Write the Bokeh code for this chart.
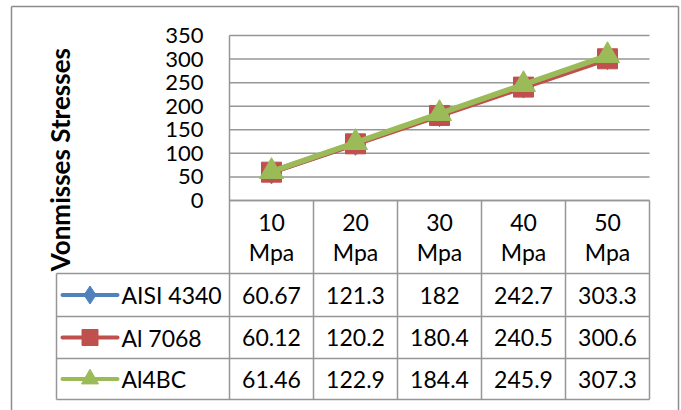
from bokeh.plotting import figure
from bokeh.models import Range1d, LinearAxis, FixedTicker
from bokeh.embed import file_html
from bokeh.resources import INLINE
from bokeh.core.properties import value

# ---- data ----
categories = ["10 Mpa", "20 Mpa", "30 Mpa", "40 Mpa", "50 Mpa"]
series_names = ["AISI 4340", "Al 7068", "Al4BC"]
aisi_4340 = [60.67, 121.3, 182, 242.7, 303.3]
al_7068 = [60.12, 120.2, 180.4, 240.5, 300.6]
al4bc = [61.46, 122.9, 184.4, 245.9, 307.3]
y_ticks = [0, 50, 100, 150, 200, 250, 300, 350]
y_title = "Vonmisses  Stresses"

# ---- styles / layout ----
colors = ["#4F81BD", "#C0504D", "#9BBB59"]
markers = ["diamond", "square", "triangle"]
plot_marker_sizes = [24, 20, 24]
legend_marker_sizes = [18, 16, 17]
FONT = "Lato"
FS = "22px"
FS_T = "23px"
GRID = "#969696"

W, H = 681, 410
PAGE = 0
COL_W = 84.0                      # px per category
PLOT_LEFT = 229.0                 # page x of first column boundary
ZERO_Y = 200.0                    # page y of value 0
TOP_Y = 35.0                      # page y of top tick
YPX = (ZERO_Y - TOP_Y) / (y_ticks[-1] - y_ticks[0])   # px per unit

def dx(px):
    return -0.5 + (px - PLOT_LEFT) / COL_W

def dy(py):
    return (ZERO_Y - py) / YPX

p = figure(width=W, height=H, output_backend="svg", toolbar_location=None,
           x_axis_location=None, y_axis_location=None, min_border=0,
           x_range=Range1d(dx(PAGE), dx(PAGE + W)),
           y_range=Range1d(dy(PAGE + H), dy(PAGE)))
p.xgrid.visible = False
p.ygrid.visible = False
p.outline_line_color = None
p.background_fill_color = "white"
p.border_fill_color = "white"

n = len(categories)
xs = list(range(n))
x_left, x_right = -0.5, n - 0.5

# outer chart border
p.segment(x0=[dx(11), dx(11), dx(678)], y0=[dy(6), dy(6), dy(6)],
          x1=[dx(11), dx(678), dx(678)], y1=[dy(PAGE + H + 5), dy(6), dy(PAGE + H + 5)],
          line_color="#8c8c8c", line_width=1.5)

# gridlines
p.segment(x0=[x_left] * len(y_ticks), x1=[x_right] * len(y_ticks),
          y0=y_ticks, y1=y_ticks, line_color=GRID, line_width=1.5)

# table geometry (page px)
row_edges = [ZERO_Y, 273.0, 316.0, 358.0, 399.0]
LEG_LEFT = 56.0
# horizontal table lines
p.segment(x0=[x_left] + [dx(LEG_LEFT)] * 4, x1=[x_right] * 5,
          y0=[dy(r) for r in row_edges], y1=[dy(r) for r in row_edges],
          line_color=GRID, line_width=1.5)
# vertical table lines
vx = [i + 0.5 for i in range(n)]
p.segment(x0=vx, x1=vx, y0=[0] * n, y1=[dy(row_edges[-1])] * n,
          line_color=GRID, line_width=1.5)
p.segment(x0=[dx(LEG_LEFT), x_left], x1=[dx(LEG_LEFT), x_left],
          y0=[dy(row_edges[1]), y_ticks[-1]],
          y1=[dy(row_edges[-1]), dy(row_edges[-1])], line_color=GRID, line_width=1.5)

# y axis at the plot area's left edge
yaxis = LinearAxis(fixed_location=x_left, ticker=FixedTicker(ticks=y_ticks),
                   axis_label=y_title, bounds=(dy(277), y_ticks[-1]))
yaxis.axis_line_color = None
yaxis.major_tick_line_color = None
yaxis.minor_tick_line_color = None
yaxis.major_tick_in = 0
yaxis.major_tick_out = 0
yaxis.major_label_standoff = 26
yaxis.major_label_text_font = FONT
yaxis.major_label_text_font_size = FS
yaxis.major_label_text_color = "black"
yaxis.axis_label_text_font = FONT
yaxis.axis_label_text_font_size = "26px"
yaxis.axis_label_text_font_style = "bold"
yaxis.axis_label_text_color = "black"
yaxis.axis_label_standoff = 86
p.add_layout(yaxis, "left")

# series lines + markers
all_series = [aisi_4340, al_7068, al4bc]
for vals, c, m, s in zip(all_series, colors, markers, plot_marker_sizes):
    p.line(xs, vals, line_color=c, line_width=5.5)
    p.scatter(xs, vals, marker=m, size=s, fill_color=c, line_color=c)

# header row (category labels)
hdr_y = dy((row_edges[0] + row_edges[1]) / 2)
p.text(x=xs, y=[hdr_y] * n, text=[c.replace(" ", "\n") for c in categories],
       text_font=value(FONT), text_font_size=FS_T, text_align="center",
       text_baseline="middle", text_color="black", text_line_height=1.1)

# data rows + legend column
for i, (vals, name, c, m, s) in enumerate(zip(all_series, series_names, colors,
                                               markers, legend_marker_sizes)):
    ry = dy((row_edges[i + 1] + row_edges[i + 2]) / 2)
    p.text(x=xs, y=[ry] * n, text=[f"{v:.4g}" for v in vals],
           text_font=value(FONT), text_font_size=FS_T, text_align="center",
           text_baseline="middle", text_color="black")
    p.segment(x0=[dx(62)], x1=[dx(117)], y0=[ry], y1=[ry], line_color=c,
              line_width=4, line_cap="round")
    p.scatter([dx(89.5)], [ry], marker=m, size=s, fill_color=c, line_color=c)
    p.text(x=[dx(121)], y=[ry], text=[name], text_font=value(FONT),
           text_font_size=FS_T, text_align="left", text_baseline="middle",
           text_color="black")

open("out.html", "w").write(file_html(p, INLINE))
